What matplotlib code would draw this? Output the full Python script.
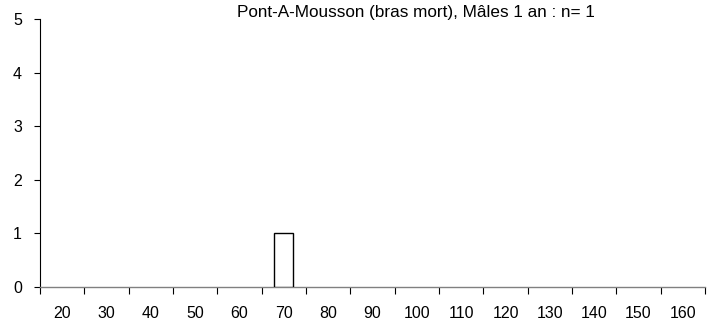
import numpy as np
import matplotlib
matplotlib.use('Agg')
import matplotlib.pyplot as plt

plt.rcParams['font.family'] = ['Liberation Sans', 'DejaVu Sans']

# classes de taille (mm) et effectifs
categories = ['20', '30', '40', '50', '60', '70', '80', '90', '100', '110',
              '120', '130', '140', '150', '160']
counts = [0, 0, 0, 0, 0, 1, 0, 0, 0, 0, 0, 0, 0, 0, 0]
title = 'Pont-A-Mousson (bras mort), Mâles 1 an : n= 1'

fig = plt.figure(figsize=(7.16, 3.22), dpi=100)
ax = fig.add_axes([40/716, 1 - 287/322, 665/716, 268/322])

x = np.arange(len(categories))
vals = np.array(counts)
nz = vals > 0
ax.bar(x[nz], vals[nz], width=0.43, color='white', edgecolor='black', linewidth=1.0, zorder=3)

ax.set_xlim(-0.5, len(categories) - 0.5)
ax.set_ylim(0, 5)
ax.set_yticks(range(0, 6))
ax.set_xticks(x)
ax.set_xticklabels(categories)
ax.set_xticks(np.arange(-0.5, len(categories), 1.0), minor=True)
ax.tick_params(axis='x', which='major', length=0, pad=14, labelsize=11.5)
ax.tick_params(axis='x', which='minor', length=5, width=0.8, color='black', direction='out')
ax.tick_params(axis='y', length=4, width=0.8, direction='out', labelsize=11.5, pad=9)

for s in ['top', 'right']:
    ax.spines[s].set_visible(False)
ax.spines['left'].set_linewidth(0.8)
ax.spines['bottom'].set_color('#808080')
ax.spines['bottom'].set_linewidth(1.0)

fig.text(416/716, 1 - 13/322, title, ha='center', va='center', fontsize=12.3)

fig.savefig('out.png', dpi=100)
